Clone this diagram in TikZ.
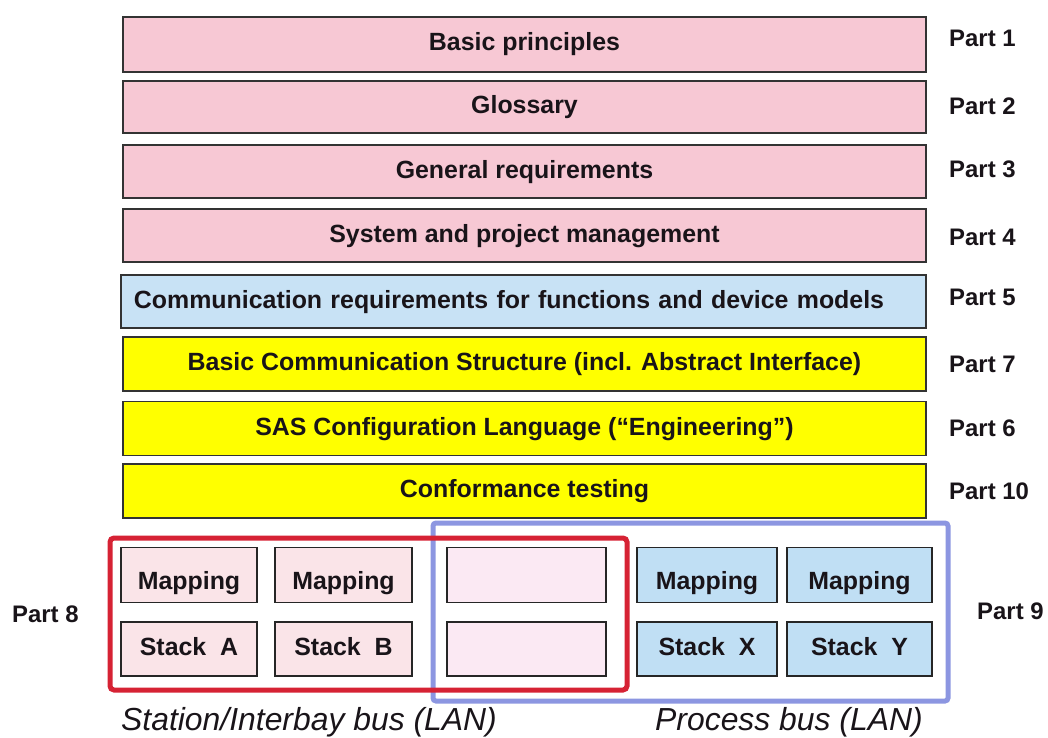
\documentclass[tikz,border=0pt]{standalone}
\usepackage{fontspec}
\setmainfont{Liberation Sans}
\definecolor{pinkbar}{RGB}{247,200,212}
\definecolor{bluebar}{RGB}{200,226,245}
\definecolor{yellowbar}{RGB}{255,255,0}
\definecolor{cellpink}{RGB}{250,228,232}
\definecolor{cellmid}{RGB}{251,233,243}
\definecolor{cellblue}{RGB}{192,223,244}
\definecolor{redframe}{RGB}{214,34,52}
\definecolor{blueframe}{RGB}{140,150,225}
\definecolor{ink}{RGB}{25,20,25}
\begin{document}
\begin{tikzpicture}[x=1bp,y=-1bp,text=ink,
  layer/.style={draw=black!80,line width=1.8bp,minimum width=803bp,inner sep=0pt,text height=18bp,text depth=5bp,font=\bfseries\fontsize{25}{28}\selectfont},
  cell/.style={draw=black!85,line width=1.4bp,inner sep=0pt,font=\bfseries\fontsize{25}{28}\selectfont},
  part/.style={anchor=west,inner sep=0pt,font=\bfseries\fontsize{24}{28}\selectfont},
  bus/.style={anchor=west,inner sep=0pt,font=\itshape\fontsize{32}{36}\selectfont}]
\useasboundingbox (0,0) rectangle (1048,738);
% the layers of the standard
\foreach \n/\y/\h/\c/\t in {1/44.5/55/pinkbar/Basic principles,
    2/107/52/pinkbar/Glossary,
    3/171.5/53/pinkbar/General requirements,
    4/235.5/53/pinkbar/System and project management,
    7/364/54/yellowbar/Basic Communication Structure (incl. Abstract Interface),
    6/428.5/54/yellowbar/SAS Configuration Language (“Engineering”),
    10/491/54/yellowbar/Conformance testing}
  \node[layer,fill=\c,minimum height=\h bp] (bar\n) at (524.5,\y) {\t};
\node[layer,fill=bluebar,minimum width=805bp,minimum height=53bp,text width=779bp,align=left,inner xsep=13bp] (bar5) at (523.5,301.5) {Communication requirements for functions and device models};
\foreach \n/\y in {1/38,2/106,3/169,4/237,5/297,7/364,6/428,10/491}
  \node[part] (part\n) at (949,\y) {Part \n};
% mappings and stacks
\draw[blueframe,line width=5bp,rounded corners=3bp] (433,523) rectangle (948,701);
\draw[redframe,line width=5bp,rounded corners=4bp] (110,538) rectangle (627,690);
\foreach \k/\x/\w/\c/\mtext/\stext in {a/189/136/cellpink/Mapping/Stack~~A,
    b/343.5/137/cellpink/Mapping/Stack~~B,
    c/526.5/159/cellmid//,
    x/707/140/cellblue/Mapping/Stack~~X,
    y/859.5/145/cellblue/Mapping/Stack~~Y} {
  \node[cell,fill=\c,minimum width=\w bp,minimum height=54.5bp,text height=28bp,text depth=0bp] (map\k) at (\x,575) {\mtext};
  \node[cell,fill=\c,minimum width=\w bp,minimum height=54bp,text height=18bp,text depth=6bp] (stack\k) at (\x,649) {\stext};
}
\node[part] (part8) at (12,614) {Part 8};
\node[part] (part9) at (977,611) {Part 9};
\node[bus] (station) at (121,722) {Station/Interbay bus (LAN)};
\node[bus] (process) at (655,722) {Process bus (LAN)};
\end{tikzpicture}
\end{document}
